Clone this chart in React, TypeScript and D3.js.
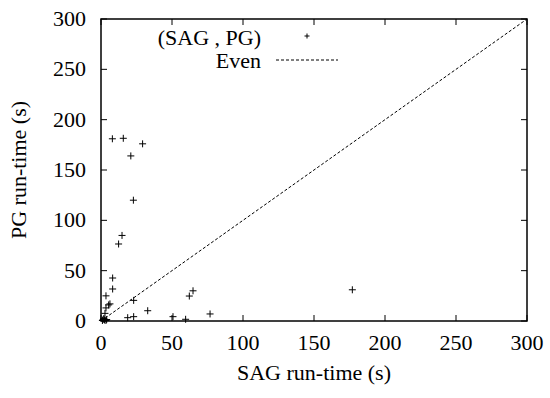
import React from "react";
import * as d3 from "d3";

const xTicks = [0, 50, 100, 150, 200, 250, 300];
const yTicks = [0, 50, 100, 150, 200, 250, 300];
const sagTimes = [8, 15.7, 29.3, 21, 22.8, 14.8, 12.4, 8.2, 8.2, 3.5, 3.5, 6.3, 5.4, 23, 32.9, 18.8, 23, 50.7, 59.6, 62.2, 64.8, 76.8, 177, 2.8, 1.5, 2.5, 3.5, 1, 2, 4];
const pgTimes = [181, 181.5, 176, 164, 120, 85, 76.5, 42.7, 31.8, 25, 13, 17, 16, 20.5, 10.2, 3.3, 4.3, 4.3, 1.7, 24.8, 30, 7, 31, 7.6, 1.5, 1, 0.5, 0.5, 2.5, 1.5];
const evenLine = [0, 300];
const seriesLabels = ["(SAG , PG)", "Even"];

const W = 550, H = 398;
const L = 101, R = 527, T = 19, B = 321;

export default function App() {
  const x = d3.scaleLinear().domain([0, 300]).range([L, R]);
  const y = d3.scaleLinear().domain([0, 300]).range([B, T]);
  const line = d3.line<number>().x((d) => x(d)).y((d) => y(d));
  const pts = sagTimes.map((s, i) => [s, pgTimes[i]]);
  const cross = (cx: number, cy: number, r: number, key: any) => (
    <path key={key} d={`M${cx - r},${cy}H${cx + r}M${cx},${cy - r}V${cy + r}`} stroke="#000" strokeWidth={1} fill="none" />
  );
  const ts = { fontFamily: '"Liberation Serif"', fontSize: 22 };
  return (
    <svg width={W} height={H} style={{ position: "absolute", left: 0, top: 0 }}>
      <rect width={W} height={H} fill="#fff" />
      {xTicks.map((t) => (
        <g key={"x" + t}>
          <line x1={x(t)} x2={x(t)} y1={B} y2={B - 6} stroke="#000" />
          <line x1={x(t)} x2={x(t)} y1={T} y2={T + 6} stroke="#000" />
          <text x={x(t)} y={B + 29} style={ts} textAnchor="middle">{t}</text>
        </g>
      ))}
      {yTicks.map((t) => (
        <g key={"y" + t}>
          <line x1={L} x2={L + 6} y1={y(t)} y2={y(t)} stroke="#000" />
          <line x1={R} x2={R - 6} y1={y(t)} y2={y(t)} stroke="#000" />
          <text x={86} y={y(t) + 7} style={ts} textAnchor="end">{t}</text>
        </g>
      ))}
      <path d={line(evenLine) || ""} stroke="#000" strokeWidth={1} strokeDasharray="3,2" fill="none" />
      {pts.map((p, i) => cross(x(p[0]), y(p[1]), 3.5, i))}
      <rect x={L} y={T} width={R - L} height={B - T} fill="none" stroke="#000" strokeWidth={1.5} />
      <text x={261} y={45} style={ts} textAnchor="end">{seriesLabels[0]}</text>
      {cross(307, 36, 2.5, "leg")}
      <text x={261} y={68} style={ts} textAnchor="end">{seriesLabels[1]}</text>
      <line x1={276} x2={338} y1={60} y2={60} stroke="#000" strokeWidth={1} strokeDasharray="3,2" />
      <text x={314} y={380} style={ts} textAnchor="middle">SAG run-time (s)</text>
      <text transform="translate(26,170) rotate(-90)" style={ts} textAnchor="middle">PG run-time (s)</text>
    </svg>
  );
}
